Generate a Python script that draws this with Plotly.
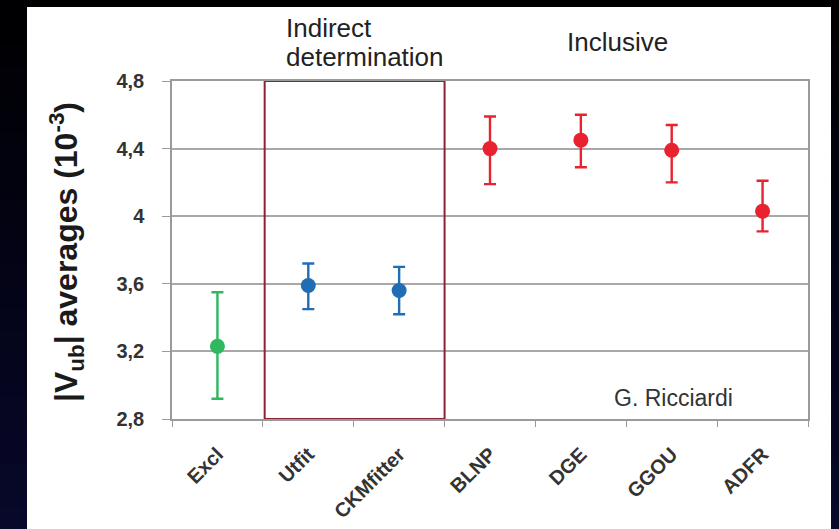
import plotly.graph_objects as go

# |Vub| determinations (units of 1e-3)
categories = ["Excl", "Utfit", "CKMfitter", "BLNP", "DGE", "GGOU", "ADFR"]
values = [3.23, 3.59, 3.56, 4.40, 4.45, 4.39, 4.03]
err_plus = [0.32, 0.13, 0.14, 0.19, 0.15, 0.15, 0.18]
err_minus = [0.31, 0.14, 0.14, 0.21, 0.16, 0.19, 0.12]

groups = [
    ([0], "#2fb85e"),          # exclusive
    ([1, 2], "#1f6db5"),       # indirect determination
    ([3, 4, 5, 6], "#e8222f"), # inclusive
]

W, H = 839, 529
L, R, T, B = 172, 808, 81, 419  # plot area in pixels


def px_x(px):
    return (px - L) / (R - L)


def px_y(py):
    return (B - py) / (B - T)


fig = go.Figure()
for idx, color in groups:
    fig.add_trace(go.Scatter(
        x=[categories[i] for i in idx],
        y=[values[i] for i in idx],
        mode="markers",
        marker=dict(color=color, size=15),
        error_y=dict(
            type="data", symmetric=False,
            array=[err_plus[i] for i in idx],
            arrayminus=[err_minus[i] for i in idx],
            color=color, thickness=2.4, width=6,
        ),
        showlegend=False,
        hoverinfo="skip",
    ))

shapes = []
# dark slide background: vertical fade from black to deep navy
n_bands = 24
for k in range(n_bands):
    t = k / (n_bands - 1)
    r, g, b = int(0 + 8 * t), int(0 + 8 * t), int(2 + 40 * t)
    y0 = k * H / n_bands
    y1 = (k + 1) * H / n_bands + 1
    shapes.append(dict(
        type="rect", xref="paper", yref="paper", layer="below",
        x0=px_x(0), x1=px_x(W), y0=px_y(y1), y1=px_y(y0),
        fillcolor=f"rgb({r},{g},{b})", line=dict(width=0),
    ))
# white chart panel
shapes.append(dict(
    type="rect", xref="paper", yref="paper", layer="below",
    x0=px_x(27), x1=px_x(831), y0=px_y(530), y1=px_y(7),
    fillcolor="white", line=dict(width=0),
))
# frame around the indirect-determination group
shapes.append(dict(
    type="rect", xref="x", yref="y", layer="above",
    x0=0.52, x1=2.5, y0=2.8, y1=4.8,
    line=dict(color="#8e2230", width=2),
))

font_family = "Liberation Sans, Arial, sans-serif"
head_font = dict(family=font_family, size=26, color="#222222")

annotations = [
    dict(text="Indirect", xref="paper", yref="paper",
         x=px_x(284), y=px_y(28), xanchor="left", yanchor="middle",
         showarrow=False, font=head_font),
    dict(text="determination", xref="paper", yref="paper",
         x=px_x(284), y=px_y(57), xanchor="left", yanchor="middle",
         showarrow=False, font=head_font),
    dict(text="Inclusive", xref="paper", yref="paper",
         x=px_x(617), y=px_y(42), xanchor="center", yanchor="middle",
         showarrow=False, font=head_font),
    dict(text="G. Ricciardi", xref="paper", yref="paper",
         x=px_x(673), y=px_y(398), xanchor="center", yanchor="middle",
         showarrow=False, font=dict(family=font_family, size=23, color="#333333")),
    dict(text="<b>|V<sub>ub</sub>| averages (10<sup>-3</sup>)</b>",
         xref="paper", yref="paper", x=px_x(66), y=px_y(252),
         xanchor="center", yanchor="middle", textangle=-90,
         showarrow=False, font=dict(family=font_family, size=32, color="#1a1a1a")),
]

fig.update_layout(
    width=W, height=H,
    margin=dict(l=L, r=W - R, t=T, b=H - B),
    paper_bgcolor="black",
    plot_bgcolor="white",
    separators=", ",
    shapes=shapes,
    annotations=annotations,
    xaxis=dict(
        type="category", categoryorder="array", categoryarray=categories,
        range=[-0.5, 6.5], tickson="boundaries", automargin=False,
        showgrid=False, showline=True, linecolor="#9a9a9a", linewidth=1.5,
        mirror=True, ticks="outside", ticklen=6, tickcolor="#9a9a9a",
        tickangle=-45, ticklabelstandoff=14,
        tickfont=dict(family=font_family, size=20, color="#333333", weight="bold"),
    ),
    yaxis=dict(
        range=[2.8, 4.8], dtick=0.4, tick0=2.8, automargin=False,
        showgrid=True, gridcolor="#a8a8a8", gridwidth=1.5,
        showline=True, linecolor="#9a9a9a", linewidth=1.5, mirror=True,
        ticks="outside", ticklen=8, tickcolor="#9a9a9a",
        ticklabelstandoff=14, zeroline=False,
        tickfont=dict(family=font_family, size=20, color="#333333", weight="bold"),
    ),
)

fig.write_html("out.html")
